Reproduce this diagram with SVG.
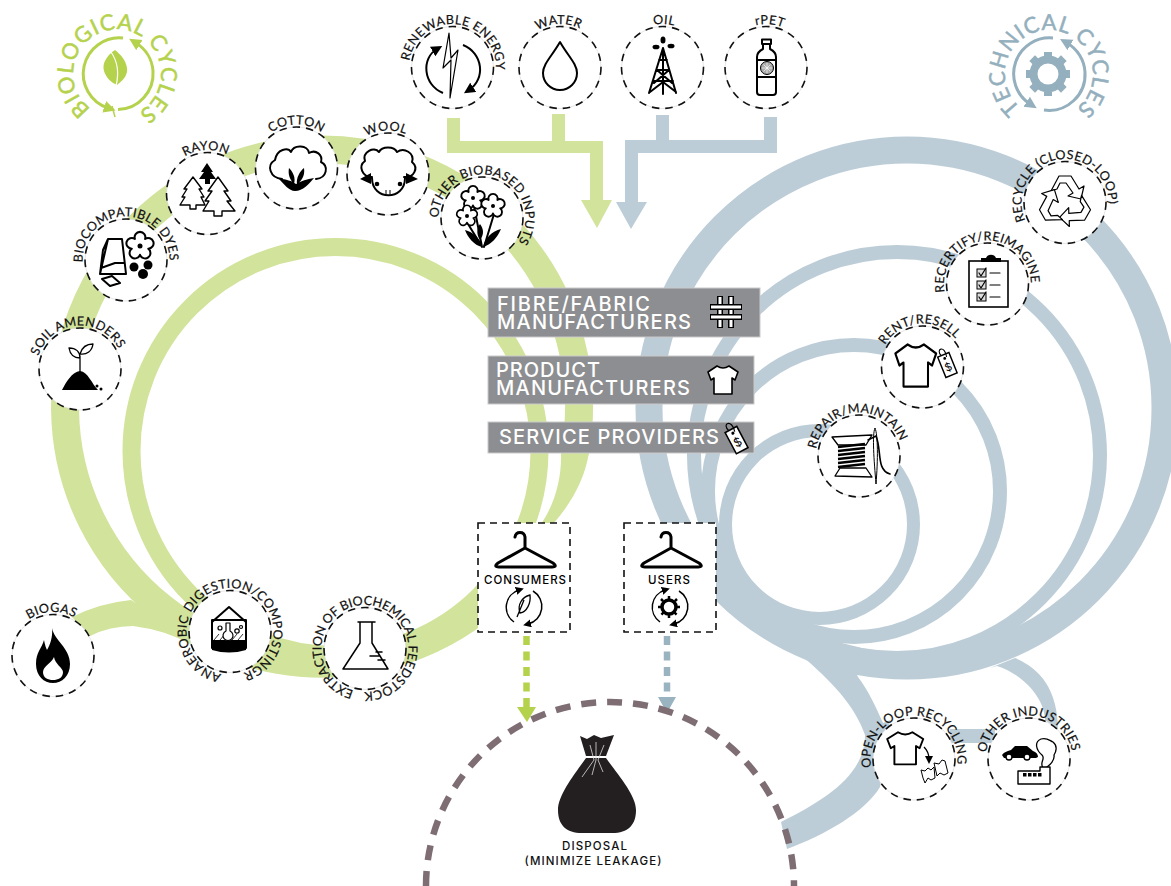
<svg xmlns="http://www.w3.org/2000/svg" width="1171" height="886" viewBox="0 0 1171 886">
<style>
text{font-family:Inter,"Open Sans","Liberation Sans",sans-serif}
.lab{font-family:Lato,"Open Sans",sans-serif;font-size:12.6px;fill:#111;letter-spacing:.35px;stroke:#111;stroke-width:.2px}
.logo{font-family:Lato,"Open Sans",sans-serif;font-size:22px;letter-spacing:.8px;stroke-width:.5px}
.box{fill:#8d8e91;stroke:#c9c9cb;stroke-width:1}
.bt{font-size:20px;font-weight:500;fill:#fff}
.bg{fill:#fff;stroke:#d5d5d5;stroke-width:.6}
.dash{fill:none;stroke:#111;stroke-width:1.6;stroke-dasharray:7.5 6}
.gfill{fill:#d2e39b}.bfill{fill:#bccdd7}
.ln{fill:none;stroke:#000;stroke-width:2;stroke-linejoin:round;stroke-linecap:round}
.ol{fill:#fff;stroke:#000;stroke-width:2;stroke-linejoin:round}
.th{fill:none;stroke:#000;stroke-width:1.2;stroke-linejoin:round}
.k{fill:#000}
</style>
<defs>
<path id="arc" d="M0,43.5 A43.5,43.5 0 1 1 0,-43.5 A43.5,43.5 0 1 1 0,43.5"/>
<path id="arcl" d="M0,44 A44,44 0 1 1 0,-44 A44,44 0 1 1 0,44"/>
<marker id="mk" markerUnits="userSpaceOnUse" markerWidth="10" markerHeight="10" refX="3" refY="4" orient="auto"><path d="M0,0 L8,4 L0,8Z" fill="#000"/></marker>
<marker id="mkb" markerUnits="userSpaceOnUse" markerWidth="14" markerHeight="14" refX="5" refY="5.5" orient="auto"><path d="M0,0 L11,5.5 L0,11Z" fill="#000"/></marker>
<marker id="mg" markerUnits="userSpaceOnUse" markerWidth="14" markerHeight="14" refX="4" refY="6" orient="auto"><path d="M0,0 L12,6 L0,12Z" fill="#b5d24c"/></marker>
<marker id="mt" markerUnits="userSpaceOnUse" markerWidth="14" markerHeight="14" refX="4" refY="6" orient="auto"><path d="M0,0 L12,6 L0,12Z" fill="#94afbd"/></marker>
<path id="shirt" d="M10,1 Q16,5 22,1 L31,7 L28,15 L25,13 L25,29 L7,29 L7,13 L4,15 L1,7 Z"/>
<path id="flower" d="M3.5,-4.85 A3.7,3.7 0 1 1 5.7,1.85 A3.7,3.7 0 1 1 0,6 A3.7,3.7 0 1 1 -5.7,1.85 A3.7,3.7 0 1 1 -3.5,-4.85 A3.7,3.7 0 1 1 3.5,-4.85Z"/>
<path id="rarrow" d="M-14,-11 L-6,-26 L6,-26 L14,-13 L19,-16 L16,-3 L3,-6 L8,-9 L1,-19 L-5,-19 L-8,-13 L-14,-11Z"/>
<g id="hanger"><path d="M515,537 C516,531 524,531 525,537 L525,548 L498,563 Q493,567 499,567 L552,567 Q558,567 553,563 L525,548" fill="none" stroke="#000" stroke-width="3" stroke-linejoin="round" stroke-linecap="round"/></g>
<g id="cyc"><path d="M514,622 A18,18 0 0 1 519,590" fill="none" stroke="#000" stroke-width="1.5" marker-end="url(#mk)"/><path d="M533,591 A18,18 0 0 1 528,624" fill="none" stroke="#000" stroke-width="1.5" marker-end="url(#mk)"/></g>
<g id="tag"><rect x="-5.5" y="-9" width="11" height="20" fill="#fff" stroke="#000" stroke-width="1.3"/><circle cx="0" cy="-5.5" r="1.3" fill="#000"/><path d="M-2,-9 C-5,-17 5,-17 2,-6" fill="none" stroke="#000" stroke-width="1"/><text y="6.5" text-anchor="middle" font-size="10" fill="#000">$</text></g>
</defs>
<rect width="1171" height="886" fill="#fff"/>

<g id="connectors">
<g id="green-bands" fill="none" stroke="#d2e39b">
<path d="M502,590 A257,257 0 1 1 574.8,453" stroke-width="28"/>
<circle cx="335.5" cy="451" r="204" stroke-width="18"/>
</g>
<path class="gfill" d="M561,452 L589,452 C585,480 570,505 553,524 L541,524 C554,505 562,480 561,452Z"/>
<path class="gfill" d="M72,617 Q100,603 131,600 L192,640 L190,644 Q165,630 133,626 Q110,626 90,636Z"/>
<g id="blue-bands" fill="none" stroke="#bccdd7">
<circle cx="907" cy="408" r="258" stroke-width="27"/>
<circle cx="897" cy="455" r="203" stroke-width="14"/>
<circle cx="854" cy="491" r="146" stroke-width="14"/>
<circle cx="819.5" cy="524.5" r="94" stroke-width="13"/>
</g>
<path class="bfill" d="M802,656 C830,680 855,705 865,735 C865,775 825,800 781,822 L787,849 C825,835 865,812 880,787 L890,720 L883,723 C875,705 868,690 858,677 L850,660Z"/>
<path class="bfill" d="M990,668 L1015,658 C1040,668 1058,690 1058,730 L1045,720 C1045,700 1025,675 997,666Z"/>
<rect class="bfill" x="950" y="729" width="45" height="14"/>
<path class="gfill" d="M447,118 H460 V141 H552 V114 H565 V141 H603 V200 H612 L597,228 L581,200 H590 V153 H447Z"/>
<path class="bfill" d="M656,115 H669 V140 H764 V117 H777 V153 H638 V202 H647 L631,229 L616,202 H625 V140 H656Z"/>
<path d="M526.5,636 V708" stroke="#b5d24c" stroke-width="6.5" stroke-dasharray="9 6.5" fill="none"/>
<path d="M517,707 H536 L527,722Z" fill="#b5d24c"/>
<path d="M667,636 V698" stroke="#9ab3c0" stroke-width="6.5" stroke-dasharray="9 6.5" fill="none"/>
<path d="M658,697 H676 L667,713Z" fill="#9ab3c0"/>
<path id="disposal-arc" d="M426,886 A184,184 0 0 1 794,886" fill="none" stroke="#7e6e74" stroke-width="6.5" stroke-dasharray="15 11"/>
</g>

<g id="disposal">
<path d="M580,736 L587,739 L594,735 L601,738 L614,735 L606,756 H586Z M586,758 H606 C618,775 636,795 636,810 C636,825 628,833 612,833 H582 C566,833 558,825 558,810 C558,795 574,775 586,758Z" fill="#231f20"/>
<path d="M596,742 V760 L592,775 M590,745 L594,760 L582,777 M604,745 L598,760 L603,772" stroke="#ddd" stroke-width=".8" fill="none"/>
<text x="594.5" y="850" font-size="11.5" font-weight="500" text-anchor="middle" fill="#111" textLength="65">DISPOSAL</text>
<text x="593" y="865" font-size="11.5" font-weight="500" text-anchor="middle" fill="#111" textLength="137">(MINIMIZE LEAKAGE)</text>
</g>

<g id="logo-biological">
<path d="M123,38 A36,36 0 0 0 108,108" fill="none" stroke="#b5d24c" stroke-width="3" marker-end="url(#mg)"/>
<path d="M118,109.5 A36,36 0 0 0 153,71 A36,36 0 0 0 136,43" fill="none" stroke="#b5d24c" stroke-width="3" marker-end="url(#mg)"/>
<path d="M115,117 L112,106" stroke="#b5d24c" stroke-width="1.5" fill="none"/>
<path d="M115,50 C106,56 102,64 104,71 C106,78 112,83 117,85 C124,80 128,74 127,68 C126,60 120,54 115,50Z" fill="#b5d24c"/>
<path d="M111,52 C118,62 119,74 116,86" stroke="#fff" stroke-width="1.2" fill="none"/>
<text class="logo" fill="#b5d24c" stroke="#b5d24c" transform="translate(117,73.5) rotate(4)"><textPath href="#arcl" startOffset="50%" text-anchor="middle">BIOLOGICAL CYCLES</textPath></text>
</g>

<g id="logo-technical">
<path d="M1053,38 A36,36 0 0 0 1030,104" fill="none" stroke="#94afbd" stroke-width="3" marker-end="url(#mt)"/>
<path d="M1044,110 A36,36 0 0 0 1085,72 A36,36 0 0 0 1067,43" fill="none" stroke="#94afbd" stroke-width="3" marker-end="url(#mt)"/>
<g fill="#94afbd"><circle cx="1048" cy="74" r="14.5" fill="none" stroke="#94afbd" stroke-width="8"/>
<rect x="1044" y="52" width="8" height="8"/><rect x="1044" y="88" width="8" height="8"/><rect x="1026" y="70" width="8" height="8"/><rect x="1062" y="70" width="8" height="8"/>
<rect x="1031" y="57" width="8" height="8" transform="rotate(45 1035 61)"/><rect x="1057" y="57" width="8" height="8" transform="rotate(45 1061 61)"/><rect x="1031" y="83" width="8" height="8" transform="rotate(45 1035 87)"/><rect x="1057" y="83" width="8" height="8" transform="rotate(45 1061 87)"/></g>
<text class="logo" fill="#94afbd" stroke="#94afbd" transform="translate(1049,74) rotate(1)"><textPath href="#arcl" startOffset="50%" text-anchor="middle">TECHNICAL CYCLES</textPath></text>
</g>

<g id="node-renewable">
<circle class="bg" cx="452.5" cy="67.5" r="41"/><circle class="dash" cx="452.5" cy="67.5" r="41"/>
<path class="th" d="M449,33 L443,68 L451,60 L450,98 L458,50 L451,58Z" stroke-width="1.4"/>
<path d="M443,93 C423,85 421,58 437,49" fill="none" stroke="#000" stroke-width="2" marker-end="url(#mkb)"/>
<path d="M463,45 C483,53 486,79 469,90" fill="none" stroke="#000" stroke-width="2" marker-end="url(#mkb)"/>
<text class="lab" transform="translate(452.5,67.5) rotate(6)"><textPath href="#arc" startOffset="50%" text-anchor="middle">RENEWABLE ENERGY</textPath></text>
</g>
<g id="node-water">
<circle class="bg" cx="560" cy="67.5" r="41"/><circle class="dash" cx="560" cy="67.5" r="41"/>
<path class="ln" d="M560,42 C552,56 543,64 543,73 A17,17 0 0 0 577,73 C577,64 568,56 560,42Z"/>
<text class="lab" transform="translate(560,67.5) rotate(-2)"><textPath href="#arc" startOffset="50%" text-anchor="middle">WATER</textPath></text>
</g>
<g id="node-oil">
<circle class="bg" cx="662.5" cy="67.5" r="41"/><circle class="dash" cx="662.5" cy="67.5" r="41"/>
<path class="ln" d="M663,48 L649,93 M663,48 L676,93 M663,48 V94 M657,70 H669 M653,81 H673 M657,70 L672,83 M669,70 L654,83 M659,60 H667 M650,92 L663,82 M676,92 L663,82" stroke-width="1.8"/>
<ellipse class="k" cx="663" cy="40" rx="2.5" ry="3.5"/><ellipse class="k" cx="656" cy="47" rx="3.5" ry="2.3"/><ellipse class="k" cx="671" cy="46" rx="3.5" ry="2.3"/>
<text class="lab" transform="translate(662.5,67.5) rotate(2)"><textPath href="#arc" startOffset="50%" text-anchor="middle">OIL</textPath></text>
</g>
<g id="node-rpet">
<circle class="bg" cx="766" cy="67.5" r="41"/><circle class="dash" cx="766" cy="67.5" r="41"/>
<path class="ln" d="M762,39.5 H771 V44 H762Z M763,44 V49 C759,51 757,53 757,57 V92 Q757,95 760,95 H773 Q776,95 776,92 V57 C776,53 774,51 770,49 V44 M757,60 H776 M757,77 H776" stroke-width="1.4"/>
<circle cx="767" cy="68" r="6.5" fill="#aaa" stroke="#000" stroke-width="1"/>
<path d="M762,68 H772 M767,63 V73 M763.5,64.5 L770.5,71.5 M770.5,64.5 L763.5,71.5" stroke="#fff" stroke-width=".7"/>
<text class="lab" transform="translate(766,67.5) rotate(5)"><textPath href="#arc" startOffset="50%" text-anchor="middle">rPET</textPath></text>
</g>

<g id="node-wool">
<circle class="bg" cx="388" cy="174" r="41"/><circle class="dash" cx="388" cy="174" r="41"/>
<path class="ln" d="M372,177 C362,177 358,166 365,161 C362,152 374,146 379,152 C382,146 394,146 397,152 C404,147 415,153 412,162 C419,168 414,178 404,177" stroke-width="2.5"/>
<path class="k" d="M371,173 L360,179 L371,184Z M406,173 L418,179 L406,184Z"/>
<path class="ln" d="M372,178 C372,201 405,201 405,178" stroke-width="2.5"/>
<circle class="k" cx="377" cy="184" r="2.3"/><circle class="k" cx="400" cy="184" r="2.3"/>
<path d="M386,190 V194 M390,190 V194" stroke="#000" stroke-width="1"/>
<text class="lab" transform="translate(388,174) rotate(-3)"><textPath href="#arc" startOffset="50%" text-anchor="middle">WOOL</textPath></text>
</g>
<g id="node-biobased">
<circle class="bg" cx="482" cy="218" r="41"/><circle class="dash" cx="482" cy="218" r="41"/>
<path class="ln" d="M474,206 L482,247 M494,214 L484,247 M468,224 L481,245" stroke-width="1.6"/>
<path class="k" d="M482,247 C474,245 468,238 465,230 C473,232 480,238 482,247Z M483,247 C492,244 497,238 501,229 C492,231 485,238 483,247Z M480,240 C476,234 477,228 480,224 C484,229 484,235 480,240Z"/>
<g class="ol" style="stroke-width:1.5"><use href="#flower" transform="translate(473,198) scale(1.25)"/><use href="#flower" transform="translate(493,206) scale(1.25)"/><use href="#flower" transform="translate(467,216) scale(1.1)"/></g>
<circle class="k" cx="473" cy="198" r="2"/><circle class="k" cx="493" cy="206" r="2"/><circle class="k" cx="467" cy="216" r="2"/>
<text class="lab" transform="translate(482,218) rotate(17)"><textPath href="#arc" startOffset="50%" text-anchor="middle">OTHER BIOBASED INPUTS</textPath></text>
</g>
<g id="node-cotton">
<circle class="bg" cx="296.5" cy="168" r="41"/><circle class="dash" cx="296.5" cy="168" r="41"/>
<path class="ln" d="M282,179 C270,178 266,165 275,160 C277,149 288,147 291,152 C294,144 308,145 309,153 C316,149 323,155 321,162 C329,166 327,178 316,179" stroke-width="3"/>
<path class="k" d="M295,191 C289,191 284,184 279,179 C286,179 292,181 296,184 C301,181 307,179 314,178 C309,184 303,191 295,191Z M294,184 C289,179 288,173 289,168 C293,172 296,178 294,184Z M297,184 C296,178 300,171 304,168 C305,174 303,180 297,184Z"/>
<text class="lab" transform="translate(296.5,168)"><textPath href="#arc" startOffset="50%" text-anchor="middle">COTTON</textPath></text>
</g>
<g id="node-rayon">
<circle class="bg" cx="207.5" cy="193.5" r="41"/><circle class="dash" cx="207.5" cy="193.5" r="41"/>
<path class="k" d="M207,163 L213,172 L211,172 L216,179 L210,179 V184 H205 V179 H199 L204,172 H201Z"/>
<path class="ol" style="stroke-width:1.4" d="M193,177 L202,189 H199 L204,197 H201 L205,205 H196 V209 H190 V205 H180 L185,197 H182 L187,189 H184Z"/>
<path class="ol" style="stroke-width:1.4" d="M218,177 L228,191 H224 L231,201 H227 L235,211 H222 V216 H214 V211 H203 L209,201 H205 L212,191 H208Z"/>
<text class="lab" transform="translate(207.5,193.5) rotate(-2)"><textPath href="#arc" startOffset="50%" text-anchor="middle">RAYON</textPath></text>
</g>
<g id="node-biocompatible">
<circle class="bg" cx="126" cy="260" r="41"/><circle class="dash" cx="126" cy="260" r="41"/>
<path class="ln" d="M108,239 H122 L126,274 L100,274 Z M108,239 L103,250 L100,274 M101,268 L115,263 H124 M102,279 L112,276 L120,283 L110,286Z" stroke-width="1.3"/>
<g class="ol" style="stroke-width:1.4"><use href="#flower" transform="translate(140,246) scale(1.45)"/></g>
<circle class="k" cx="140" cy="246" r="2.5"/>
<circle class="k" cx="134" cy="267" r="4.5"/><circle class="k" cx="148" cy="265" r="4.5"/><circle class="k" cx="143" cy="274" r="5"/>
<text class="lab" transform="translate(126,260) rotate(-1)"><textPath href="#arc" startOffset="50%" text-anchor="middle">BIOCOMPATIBLE DYES</textPath></text>
</g>
<g id="node-soil">
<circle class="bg" cx="80" cy="369" r="41"/><circle class="dash" cx="80" cy="369" r="41"/>
<path class="k" d="M62,390 C66,382 72,372 80,371 C88,372 92,384 98,390Z"/><circle class="k" cx="97" cy="386" r="1.5"/><circle class="k" cx="101" cy="389" r="1.5"/>
<path class="ln" style="stroke-width:1.3" d="M80,372 V356 M80,358 C74,358 70,354 69,348 C76,348 80,352 80,358Z M80,354 C82,347 87,344 93,344 C92,351 87,355 80,354Z"/>
<text class="lab" transform="translate(80,369) rotate(-5)"><textPath href="#arc" startOffset="50%" text-anchor="middle">SOIL AMENDERS</textPath></text>
</g>
<g id="node-biogas">
<circle class="bg" cx="53" cy="655.5" r="41"/><circle class="dash" cx="53" cy="655.5" r="41"/>
<path class="k" d="M52,628 C54,640 70,648 70,664 C70,676 62,683 53,683 C44,683 36,676 36,664 C36,652 42,648 44,640 C45,645 46,648 47,650 C50,645 53,637 52,628Z"/>
<path fill="#fff" d="M54,657 C55,664 63,668 63,672 C63,678 58,680 53,680 C48,680 43,678 43,672 C43,666 52,663 54,657Z"/>
<text class="lab" transform="translate(53,655.5) rotate(-2)"><textPath href="#arc" startOffset="50%" text-anchor="middle">BIOGAS</textPath></text>
</g>
<g id="node-anaerobic">
<circle class="bg" cx="230" cy="631.5" r="41"/><circle class="dash" cx="230" cy="631.5" r="41"/>
<path class="ln" d="M212,622 L229,607 L246,622 M212,620 H246 M212,620 V648 M246,620 V648" stroke-width="1.8"/>
<path class="k" d="M212,640 H246 V650 Q229,655 212,650Z"/>
<path d="M214,640 L219,634 M220,640 L225,634 M232,640 L237,634 M238,640 L243,634" stroke="#000" stroke-width=".8"/>
<path class="ol" style="stroke-width:1.2" d="M226,623 H230 V631 A5,5 0 1 1 226,631Z"/>
<circle class="th" cx="220" cy="628" r="2" stroke-width=".8"/><circle class="th" cx="237" cy="631" r="2.2" stroke-width=".8"/><circle class="th" cx="241" cy="627" r="1.5" stroke-width=".8"/>
<text class="lab" transform="translate(230,631.5) rotate(-3)"><textPath href="#arc" startOffset="50%" text-anchor="middle">ANAEROBIC DIGESTION/COMPOSTINGR</textPath></text>
</g>
<g id="node-extraction">
<circle class="bg" cx="365" cy="648.5" r="41"/><circle class="dash" cx="365" cy="648.5" r="41"/>
<path class="ln" style="stroke-width:1.5" d="M358,622 H375 M360,622 V643 L343,669 H388 L372,643 V622 M379,656 H370 M382,652 H376 M385,660 L378,660"/>
<text class="lab" style="letter-spacing:0" transform="translate(365,648.5) rotate(8)"><textPath href="#arc" startOffset="50%" text-anchor="middle">EXTRACTION OF BIOCHEMICAL FEEDSTOCK</textPath></text>
</g>

<g id="node-recycle">
<circle class="bg" cx="1065" cy="202.5" r="41"/><circle class="dash" cx="1065" cy="202.5" r="41"/>
<g class="ol" style="stroke-width:1.2"><use href="#rarrow" transform="translate(1065,202) rotate(0)"/><use href="#rarrow" transform="translate(1065,202) rotate(120)"/><use href="#rarrow" transform="translate(1065,202) rotate(240)"/></g>
<text class="lab" transform="translate(1065,202.5) rotate(-11)"><textPath href="#arc" startOffset="50%" text-anchor="middle">RECYCLE (CLOSED-LOOP)</textPath></text>
</g>
<g id="node-recertify">
<circle class="bg" cx="987.5" cy="284" r="41"/><circle class="dash" cx="987.5" cy="284" r="41"/>
<rect x="969" y="261" width="39" height="46" fill="#fff" stroke="#000" stroke-width="1.6"/>
<path class="k" d="M981,262 H1001 V258 H996 A5.5,5.5 0 0 0 986,258 H981Z"/>
<g fill="#ddd" stroke="#000" stroke-width="1"><rect x="977" y="269" width="9" height="8"/><rect x="977" y="281" width="9" height="8"/><rect x="977" y="293" width="9" height="8"/></g>
<path class="ln" style="stroke-width:1.2" d="M979,273 L981,276 L986,268 M979,285 L981,288 L986,280 M979,297 L981,300 L986,292 M990,273 H1000 M990,285 H1000 M990,297 H1000"/>
<text class="lab" transform="translate(987.5,284) rotate(-6)"><textPath href="#arc" startOffset="50%" text-anchor="middle">RECERTIFY/REIMAGINE</textPath></text>
</g>
<g id="node-rent">
<circle class="bg" cx="922.5" cy="367" r="41"/><circle class="dash" cx="922.5" cy="367" r="41"/>
<use href="#shirt" class="ol" transform="translate(894,343) scale(1.36,1.5)" style="stroke-width:1.5"/>
<use href="#tag" transform="translate(947,364) rotate(-22) scale(1.1)"/>
<text class="lab" transform="translate(922.5,367) rotate(-5)"><textPath href="#arc" startOffset="50%" text-anchor="middle">RENT/RESELL</textPath></text>
</g>
<g id="node-repair">
<circle class="bg" cx="859" cy="456" r="41"/><circle class="dash" cx="859" cy="456" r="41"/>
<path class="ln" style="stroke-width:1.3" d="M832,437 L872,435 L866,445 H838Z M835,476 L872,477 L866,468 H840Z"/>
<g stroke="#000" stroke-width="2.4"><path d="M838,447 L865,444 M838,451 L865,448 M838,455 L865,452 M838,459 L865,456 M838,463 L865,460 M838,467 L865,464"/></g>
<path class="ol" style="stroke-width:1" d="M875,428 C872,435 874,460 876,484 C878,460 878,435 875,428Z"/>
<path class="ln" style="stroke-width:1.6" d="M868,440 L876,436 C882,450 876,470 890,474"/>
<text class="lab" transform="translate(859,456) rotate(-5)"><textPath href="#arc" startOffset="50%" text-anchor="middle">REPAIR/MAINTAIN</textPath></text>
</g>
<g id="node-openloop">
<circle class="bg" cx="914" cy="759" r="41"/><circle class="dash" cx="914" cy="759" r="41"/>
<use href="#shirt" class="ol" transform="translate(886,731) scale(1.2,1.15)" style="stroke-width:1.6"/>
<path d="M924,747 C928,751 929,755 929,759" fill="none" stroke="#000" stroke-width="1.3" marker-end="url(#mk)"/>
<path class="ol" style="stroke-width:1" d="M921,770 L925,771 L928,768 L931,770 L934,767 L935,778 L931,780 L928,778 L925,783 L923,778Z M934,763 L939,764 L942,760 L945,761 L948,773 L944,775 L940,773 L937,776Z"/>
<text class="lab" transform="translate(914,759) rotate(-2)"><textPath href="#arc" startOffset="50%" text-anchor="middle">OPEN-LOOP RECYCLING</textPath></text>
</g>
<g id="node-other">
<circle class="bg" cx="1029" cy="759" r="41"/><circle class="dash" cx="1029" cy="759" r="41"/>
<path class="k" d="M1002,755 C1004,752 1008,751 1011,750 L1015,746 H1027 L1033,751 C1036,752 1038,754 1038,757 L1036,758 H1004Z"/>
<circle cx="1009" cy="757" r="3" fill="#fff" stroke="#000" stroke-width="1.4"/><circle cx="1027" cy="757" r="3" fill="#fff" stroke="#000" stroke-width="1.4"/>
<path class="ln" style="stroke-width:1.3" d="M1043,768 C1039,762 1046,759 1042,755 C1036,750 1034,742 1041,739 C1047,737 1050,741 1053,742 C1058,746 1056,752 1054,755 C1055,760 1050,765 1047,767"/>
<path class="ol" style="stroke-width:1.4" d="M1018,771 H1040 V767 H1050 V784 H1018Z"/>
<g class="k"><rect x="1023" y="773" width="3.5" height="3.5"/><rect x="1028" y="773" width="3.5" height="3.5"/><rect x="1033" y="773" width="3.5" height="3.5"/><rect x="1038" y="773" width="3.5" height="3.5"/></g>
<text class="lab" transform="translate(1029,759) rotate(-1)"><textPath href="#arc" startOffset="50%" text-anchor="middle">OTHER INDUSTRIES</textPath></text>
</g>

<g id="node-fibre">
<rect class="box" x="488" y="288" width="272" height="49"/>
<text class="bt" x="497" y="311" textLength="153">FIBRE/FABRIC</text>
<text class="bt" x="497" y="329" textLength="194">MANUFACTURERS</text>
<g fill="none"><path d="M710,307 H742 M710,317 H742 M720,296 V328 M731,296 V328" stroke="#000" stroke-width="6"/><path d="M711,307 H741 M711,317 H741 M720,297 V304 M720,310 V314 M720,320 V327 M731,297 V304 M731,310 V314 M731,320 V327" stroke="#fff" stroke-width="3"/></g>
</g>
<g id="node-product">
<rect class="box" x="488" y="356" width="266" height="48"/>
<text class="bt" x="496" y="377" textLength="104">PRODUCT</text>
<text class="bt" x="496" y="395" textLength="194">MANUFACTURERS</text>
<use href="#shirt" class="ol" transform="translate(707,365) scale(1,1)" style="stroke-width:1.6"/>
</g>
<g id="node-service">
<rect class="box" x="488" y="422" width="266" height="31"/>
<text class="bt" x="499" y="444" textLength="220">SERVICE PROVIDERS</text>
<use href="#tag" transform="translate(736,439) rotate(-28) scale(1.2)"/>
</g>

<g id="node-consumers">
<rect x="478" y="523" width="92" height="109" fill="#fff" stroke="#111" stroke-width="1.6" stroke-dasharray="7 5"/>
<use href="#hanger"/>
<text x="525" y="584" font-size="11.5" font-weight="500" text-anchor="middle" fill="#000" textLength="82">CONSUMERS</text>
<use href="#cyc"/>
<path d="M530,595 C522,597 517,605 520,613 C527,612 531,603 530,595Z M517,617 L524,600" fill="none" stroke="#000" stroke-width="1.3"/>
</g>
<g id="node-users">
<rect x="624" y="523" width="92" height="109" fill="#fff" stroke="#111" stroke-width="1.6" stroke-dasharray="7 5"/>
<use href="#hanger" x="146"/>
<text x="669" y="584" font-size="11.5" font-weight="500" text-anchor="middle" fill="#000" textLength="42">USERS</text>
<use href="#cyc" x="146"/>
<circle cx="669" cy="607" r="7" fill="none" stroke="#000" stroke-width="3.5"/>
<path d="M669,596 V618 M658,607 H680 M661,599 L677,615 M677,599 L661,615" stroke="#000" stroke-width="2.5" stroke-dasharray="3 16"/>
</g>
</svg>
